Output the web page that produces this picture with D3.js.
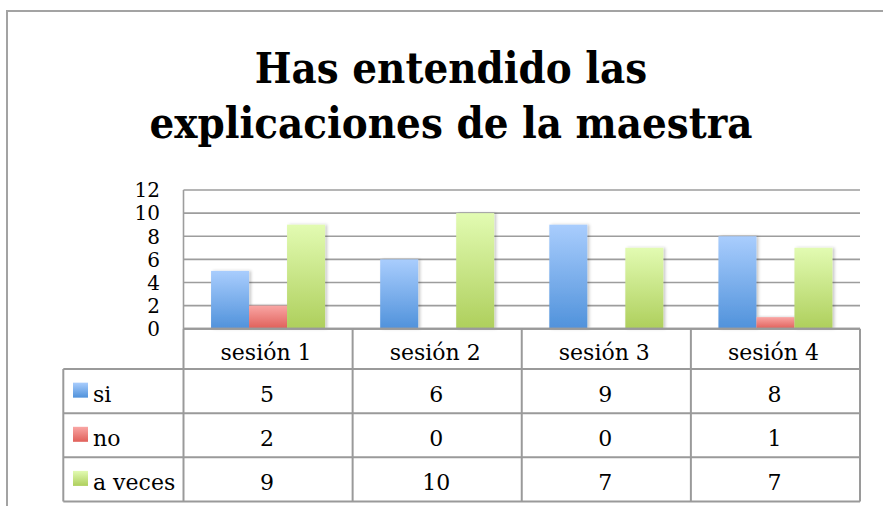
<!DOCTYPE html>
<html>
<head>
<meta charset="utf-8">
<script src="https://cdn.jsdelivr.net/npm/d3@7"></script>
<style>
  html, body { margin: 0; padding: 0; background: #fff; }
  svg { display: block; }
</style>
</head>
<body>
<svg id="chart" width="883" height="506"></svg>
<script>
// ---- data ----
const titleLines = ["Has entendido las", "explicaciones de la maestra"];
const categories = ["sesión 1", "sesión 2", "sesión 3", "sesión 4"];
const seriesNames = ["si", "no", "a veces"];
const siValues = [5, 6, 9, 8];
const noValues = [2, 0, 0, 1];
const aVecesValues = [9, 10, 7, 7];
const yTicks = [0, 2, 4, 6, 8, 10, 12];

const seriesValues = [siValues, noValues, aVecesValues];
const seriesColors = [
  { top: "#a9cdfd", bottom: "#5092db" },
  { top: "#f9a6a4", bottom: "#e0605a" },
  { top: "#e2fbb2", bottom: "#aecf5c" }
];

const svg = d3.select("#chart");
const FONT = "'DejaVu Serif', 'Liberation Serif', serif";
const GRID = "#9d9d9d";

// ---- defs ----
const defs = svg.append("defs");
seriesColors.forEach((c, i) => {
  const g = defs.append("linearGradient").attr("id", "grad" + i)
    .attr("x1", 0).attr("y1", 0).attr("x2", 0).attr("y2", 1);
  g.append("stop").attr("offset", "0%").attr("stop-color", c.top);
  g.append("stop").attr("offset", "100%").attr("stop-color", c.bottom);
});
const f = defs.append("filter").attr("id", "shadow")
  .attr("x", "-20%").attr("y", "-10%").attr("width", "150%").attr("height", "120%");
f.append("feDropShadow").attr("dx", 2).attr("dy", 0).attr("stdDeviation", 1.6)
  .attr("flood-color", "#000").attr("flood-opacity", 0.22);

// ---- outer frame ----
svg.append("path").attr("d", "M7,510 V11 H890")
  .attr("fill", "none").attr("stroke", "#a3a3a3").attr("stroke-width", 2);

// ---- title ----
const titleBaselines = [83, 138];
const titleG = svg.append("g");
titleLines.forEach((t, i) => {
  titleG.append("g")
    .attr("transform", `translate(451,${titleBaselines[i]}) scale(1,1.1)`)
    .append("text")
    .attr("x", 0).attr("y", 0)
    .attr("text-anchor", "middle")
    .attr("font-family", FONT).attr("font-weight", "bold")
    .attr("font-size", 40).attr("fill", "#000")
    .text(t);
});
// fit title so second line spans ~603px
{
  const nodes = titleG.selectAll("text").nodes();
  const w = nodes[1].getComputedTextLength();
  const fs = 40 * 603 / w;
  titleG.selectAll("text").attr("font-size", fs);
}

// ---- scales ----
const plotLeft = 183.5, plotRight = 860, plotTop = 190, plotBottom = 328.7;
const x = d3.scaleBand().domain(categories).range([plotLeft, plotRight]).paddingInner(0).paddingOuter(0);
const xs = d3.scaleBand().domain(seriesNames).range([0, x.bandwidth()]).paddingInner(0).paddingOuter(0.725);
const y = d3.scaleLinear().domain([0, 12]).range([plotBottom, plotTop]);

// ---- gridlines ----
svg.append("g").selectAll("line").data(yTicks).join("line")
  .attr("x1", plotLeft).attr("x2", plotRight)
  .attr("y1", d => y(d)).attr("y2", d => y(d))
  .attr("stroke", GRID).attr("stroke-width", 1.6);
svg.append("line").attr("x1", plotLeft).attr("x2", plotLeft)
  .attr("y1", plotTop).attr("y2", plotBottom)
  .attr("stroke", GRID).attr("stroke-width", 1.6);

// ---- y labels ----
svg.append("g").selectAll("text").data(yTicks).join("text")
  .attr("x", 160).attr("y", d => y(d) + 7.3)
  .attr("text-anchor", "end")
  .attr("font-family", FONT).attr("font-size", 20).attr("fill", "#000")
  .text(d => d);

// ---- bars ----
const barData = [];
categories.forEach((c, ci) => {
  seriesNames.forEach((s, si) => {
    barData.push({ cat: c, series: s, si, value: seriesValues[si][ci] });
  });
});
svg.append("g").selectAll("rect").data(barData.filter(d => d.value > 0)).join("rect")
  .attr("x", d => x(d.cat) + xs(d.series))
  .attr("width", xs.bandwidth())
  .attr("y", d => y(d.value))
  .attr("height", d => y(0) - y(d.value))
  .attr("fill", d => `url(#grad${d.si})`)
  .attr("filter", "url(#shadow)");

// redraw baseline on top
svg.append("line").attr("x1", plotLeft).attr("x2", plotRight)
  .attr("y1", plotBottom).attr("y2", plotBottom)
  .attr("stroke", GRID).attr("stroke-width", 2);

// ---- data table ----
const legendLeft = 63.3;
const rowEdges = [plotBottom, 369, 413.3, 457.3, 501.5];
const TBL = "#9a9a9a";
const table = svg.append("g");

rowEdges.forEach((ry, i) => {
  table.append("line")
    .attr("x1", i === 0 ? plotLeft : legendLeft).attr("x2", plotRight)
    .attr("y1", ry).attr("y2", ry)
    .attr("stroke", TBL).attr("stroke-width", 2);
});
const colEdges = categories.map(c => x(c)).concat([plotRight]);
colEdges.forEach(cx => {
  table.append("line").attr("x1", cx).attr("x2", cx)
    .attr("y1", rowEdges[0]).attr("y2", rowEdges[4])
    .attr("stroke", TBL).attr("stroke-width", 2);
});
table.append("line").attr("x1", legendLeft).attr("x2", legendLeft)
  .attr("y1", rowEdges[1]).attr("y2", rowEdges[4])
  .attr("stroke", TBL).attr("stroke-width", 2);

table.selectAll("text.hdr").data(categories).join("text").attr("class", "hdr")
  .attr("x", d => x(d) + x.bandwidth() / 2 - 2)
  .attr("y", 360)
  .attr("text-anchor", "middle")
  .attr("font-family", FONT).attr("font-size", 22).attr("fill", "#000")
  .text(d => d);

seriesNames.forEach((s, si) => {
  const top = rowEdges[si + 1], bot = rowEdges[si + 2];
  const mid = (top + bot) / 2;
  table.append("rect")
    .attr("x", 73).attr("y", mid - 8.5).attr("width", 15).attr("height", 15)
    .attr("fill", `url(#grad${si})`);
  table.append("text")
    .attr("x", 93).attr("y", mid + 11)
    .attr("font-family", FONT).attr("font-size", 22).attr("fill", "#000")
    .text(s);
  table.selectAll("text.v" + si).data(categories).join("text").attr("class", "v" + si)
    .attr("x", d => x(d) + x.bandwidth() / 2 - 1)
    .attr("y", mid + 11)
    .attr("text-anchor", "middle")
    .attr("font-family", FONT).attr("font-size", 22).attr("fill", "#000")
    .text((d, ci) => seriesValues[si][ci]);
});
</script>
</body>
</html>
